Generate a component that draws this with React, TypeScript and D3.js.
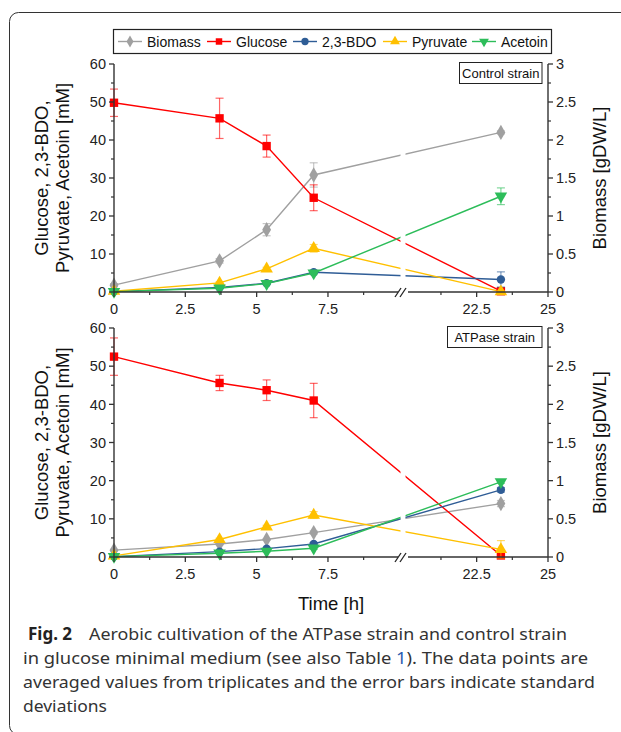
import React from 'react';
import * as d3 from 'd3';

const timePoints = [0, 3.7, 5.35, 7, 23.35];
const seriesNames = ['Biomass', 'Glucose', '2,3-BDO', 'Pyruvate', 'Acetoin'];
const seriesColors = ['#a0a0a0', '#ff0000', '#2f5d96', '#ffc000', '#2dbd5a'];
const seriesShapes = ['diamond', 'square', 'circle', 'triangle', 'triangleDown'];

// Control strain
const ctrlBiomass = [0.09, 0.41, 0.82, 1.54, 2.1];
const ctrlBiomassErr = [0.02, 0.03, 0.08, 0.16, 0.02];
const ctrlGlucose = [49.8, 45.7, 38.4, 24.8, 0.2];
const ctrlGlucoseErr = [3.6, 5.3, 2.9, 3.4, 0.3];
const ctrlBDO = [0.1, 1.2, 2.3, 5.2, 3.3];
const ctrlBDOErr = [0.1, 0.2, 0.3, 0.3, 2.0];
const ctrlPyruvate = [0.2, 2.4, 6.1, 11.5, 0.1];
const ctrlPyruvateErr = [0.1, 0.3, 0.4, 1.0, 0.2];
const ctrlAcetoin = [0.1, 1.0, 2.2, 5.0, 25.2];
const ctrlAcetoinErr = [0.1, 0.2, 0.3, 0.4, 2.2];

// ATPase strain
const atpBiomass = [0.09, 0.17, 0.23, 0.32, 0.7];
const atpBiomassErr = [0.01, 0.01, 0.01, 0.02, 0.04];
const atpGlucose = [52.5, 45.6, 43.7, 41.0, 0.4];
const atpGlucoseErr = [4.9, 2.0, 2.7, 4.5, 0.3];
const atpBDO = [0.1, 1.4, 2.2, 3.4, 17.6];
const atpBDOErr = [0.1, 0.2, 0.2, 0.4, 0.6];
const atpPyruvate = [0.3, 4.6, 7.9, 11.0, 2.0];
const atpPyruvateErr = [0.1, 0.3, 0.4, 0.9, 2.3];
const atpAcetoin = [0.1, 1.0, 1.5, 2.3, 19.7];
const atpAcetoinErr = [0.1, 0.1, 0.2, 0.3, 0.4];

const xMajorTicks = [0, 2.5, 5, 7.5, 22.5, 25];
const xMinorTicks = [1.25, 3.75, 6.25, 8.75, 21.25, 23.75];
const yLeftMajor = [0, 10, 20, 30, 40, 50, 60];
const yLeftMinor = [5, 15, 25, 35, 45, 55];
const yRightMajor = [0, 0.5, 1, 1.5, 2, 2.5, 3];
const yRightMinor = [0.25, 0.75, 1.25, 1.75, 2.25, 2.75];
const panelLabels = ['Control strain', 'ATPase strain'];

const FONT = 'Arial, "Liberation Sans", sans-serif';
const CAP_FONT = '"Noto Sans", "Open Sans", sans-serif';

const X_LEFT = 114;
const X_RIGHT = 548;
const BREAK_X = 403;
const x = d3.scaleLinear().domain([0, 10.13, 19.92, 25]).range([X_LEFT, BREAK_X, BREAK_X, X_RIGHT]);

function symbolPath(shape: string, size: number) {
  let t: any = d3.symbolCircle;
  if (shape === 'diamond') t = d3.symbolDiamond;
  if (shape === 'square') t = d3.symbolSquare;
  if (shape === 'triangle' || shape === 'triangleDown') t = d3.symbolTriangle;
  return d3.symbol().type(t).size(size)() as string;
}

function Marker({ shape, color, cx, cy, size }: any) {
  const rot = shape === 'triangleDown' ? ' rotate(180)' : '';
  return <path d={symbolPath(shape, size)} transform={`translate(${cx},${cy})${rot}`} fill={color} />;
}

function Panel({ top, bottom, label, labelBoxX, data, clipId }: any) {
  const y = d3.scaleLinear().domain([0, 60]).range([bottom, top]);
  const yR = d3.scaleLinear().domain([0, 3]).range([bottom, top]);
  const line = d3.line<[number, number]>().x((d) => d[0]).y((d) => d[1]);
  const mid = (top + bottom) / 2;
  const axisColor = '#333';
  return (
    <g>
      <defs>
        <clipPath id={clipId}>
          <rect x={X_LEFT - 10} y={top - 20} width={BREAK_X - 2.5 - (X_LEFT - 10)} height={bottom - top + 30} />
          <rect x={BREAK_X + 2.5} y={top - 20} width={X_RIGHT + 10 - BREAK_X - 2.5} height={bottom - top + 30} />
        </clipPath>
      </defs>
      {/* label box */}
      <rect x={labelBoxX} y={top - 1.5} width={X_RIGHT - 6 - labelBoxX} height={21} fill="#fff" stroke="#222" strokeWidth={1} />
      <text x={(labelBoxX + X_RIGHT - 6) / 2} y={top + 13.5} textAnchor="middle" fontFamily={FONT} fontSize={13} fill="#111">{label}</text>
      {/* lines */}
      <g clipPath={`url(#${clipId})`}>
        {data.map((s: any, i: number) => {
          const sc = i === 0 ? yR : y;
          const pts: [number, number][] = timePoints.map((t, k) => [x(t), sc(s.values[k])]);
          return <path key={i} d={line(pts) as string} fill="none" stroke={seriesColors[i]} strokeWidth={1.4} />;
        })}
      </g>
      {/* error bars and markers */}
      {data.map((s: any, i: number) => {
        const sc = i === 0 ? yR : y;
        return (
          <g key={i}>
            {timePoints.map((t, k) => {
              const cx = x(t);
              const y1 = sc(s.values[k] + s.err[k]);
              const y2 = sc(Math.max(s.values[k] - s.err[k], i === 0 ? -0.2 : -5));
              return (
                <g key={k} stroke={seriesColors[i]} strokeOpacity={0.6} strokeWidth={1.2}>
                  <line x1={cx} x2={cx} y1={y1} y2={y2} />
                  <line x1={cx - 4} x2={cx + 4} y1={y1} y2={y1} />
                  <line x1={cx - 4} x2={cx + 4} y1={y2} y2={y2} />
                </g>
              );
            })}
            {timePoints.map((t, k) => (
              <Marker key={'m' + k} shape={seriesShapes[i]} color={seriesColors[i]} cx={x(t)} cy={sc(s.values[k])} size={seriesShapes[i] === 'square' ? 70 : seriesShapes[i] === 'circle' ? 55 : 68} />
            ))}
          </g>
        );
      })}
      {/* axes */}
      <line x1={X_LEFT} x2={X_LEFT} y1={top} y2={bottom} stroke={axisColor} strokeWidth={1.4} />
      <line x1={X_RIGHT} x2={X_RIGHT} y1={top} y2={bottom} stroke={axisColor} strokeWidth={1.4} />
      <line x1={X_LEFT} x2={X_RIGHT} y1={bottom} y2={bottom} stroke={axisColor} strokeWidth={1.4} />
      {yLeftMajor.map((v) => (
        <g key={'lm' + v}>
          <line x1={X_LEFT - 5} x2={X_LEFT} y1={y(v)} y2={y(v)} stroke={axisColor} strokeWidth={1.3} />
          <text x={X_LEFT - 8} y={y(v)} dy="0.36em" textAnchor="end" fontFamily={FONT} fontSize={14.5} fill="#222">{v}</text>
        </g>
      ))}
      {yLeftMinor.map((v) => (
        <line key={'ln' + v} x1={X_LEFT - 3} x2={X_LEFT} y1={y(v)} y2={y(v)} stroke={axisColor} strokeWidth={1.2} />
      ))}
      {yRightMajor.map((v) => (
        <g key={'rm' + v}>
          <line x1={X_RIGHT} x2={X_RIGHT + 5} y1={yR(v)} y2={yR(v)} stroke={axisColor} strokeWidth={1.3} />
          <text x={X_RIGHT + 8} y={yR(v)} dy="0.36em" textAnchor="start" fontFamily={FONT} fontSize={14.5} fill="#222">{v}</text>
        </g>
      ))}
      {yRightMinor.map((v) => (
        <line key={'rn' + v} x1={X_RIGHT} x2={X_RIGHT + 3} y1={yR(v)} y2={yR(v)} stroke={axisColor} strokeWidth={1.2} />
      ))}
      {xMajorTicks.map((v) => (
        <g key={'xm' + v}>
          <line x1={x(v)} x2={x(v)} y1={bottom} y2={bottom + 5} stroke={axisColor} strokeWidth={1.3} />
          <text x={x(v)} y={bottom + 22} textAnchor="middle" fontFamily={FONT} fontSize={14.5} fill="#222">{v}</text>
        </g>
      ))}
      {xMinorTicks.map((v) => (
        <line key={'xn' + v} x1={x(v)} x2={x(v)} y1={bottom} y2={bottom + 3} stroke={axisColor} strokeWidth={1.2} />
      ))}
      {/* break marks */}
      <rect x={BREAK_X - 5} y={bottom - 2} width={10} height={4} fill="#fff" />
      <line x1={BREAK_X - 8} x2={BREAK_X - 2} y1={bottom + 5} y2={bottom - 4} stroke="#222" strokeWidth={1.3} />
      <line x1={BREAK_X - 3} x2={BREAK_X + 3} y1={bottom + 5} y2={bottom - 4} stroke="#222" strokeWidth={1.3} />
      {/* axis titles */}
      <text transform={`translate(42,${mid}) rotate(-90)`} dy="0.35em" textAnchor="middle" fontFamily={FONT} fontSize={18.5} fill="#111">Glucose, 2,3-BDO,</text>
      <text transform={`translate(63,${mid}) rotate(-90)`} dy="0.35em" textAnchor="middle" fontFamily={FONT} fontSize={18.5} fill="#111">Pyruvate, Acetoin [mM]</text>
      <text transform={`translate(600,${mid}) rotate(-90)`} dy="0.35em" textAnchor="middle" fontFamily={FONT} fontSize={18.5} fill="#111">Biomass [gDW/L]</text>
    </g>
  );
}

const legendLineX = [118, 207, 293, 383, 472];

export default function App() {
  const ctrlData = [
    { values: ctrlBiomass, err: ctrlBiomassErr },
    { values: ctrlGlucose, err: ctrlGlucoseErr },
    { values: ctrlBDO, err: ctrlBDOErr },
    { values: ctrlPyruvate, err: ctrlPyruvateErr },
    { values: ctrlAcetoin, err: ctrlAcetoinErr },
  ];
  const atpData = [
    { values: atpBiomass, err: atpBiomassErr },
    { values: atpGlucose, err: atpGlucoseErr },
    { values: atpBDO, err: atpBDOErr },
    { values: atpPyruvate, err: atpPyruvateErr },
    { values: atpAcetoin, err: atpAcetoinErr },
  ];
  return (
    <svg width={621} height={732} style={{ position: 'absolute', left: 0, top: 0, background: '#fff' }}>
      <rect x={0} y={0} width={621} height={732} fill="#fff" />
      <rect x={9.5} y={12.5} width={700} height={722} rx={9} fill="none" stroke="#333" strokeWidth={1} />
      {/* legend */}
      <rect x={113.5} y={29.5} width={438} height={24} fill="#fff" stroke="#222" strokeWidth={1.2} />
      {seriesNames.map((n, i) => (
        <g key={n}>
          <line x1={legendLineX[i]} x2={legendLineX[i] + 24} y1={41.5} y2={41.5} stroke={seriesColors[i]} strokeWidth={1.4} />
          <Marker shape={seriesShapes[i]} color={seriesColors[i]} cx={legendLineX[i] + 12} cy={41.5} size={42} />
          <text x={legendLineX[i] + 29} y={41.5} dy="0.36em" fontFamily={FONT} fontSize={14} fill="#111">{n}</text>
        </g>
      ))}
      <Panel top={64} bottom={292} label={panelLabels[0]} labelBoxX={459.5} data={ctrlData} clipId="clipA" />
      <Panel top={328} bottom={557} label={panelLabels[1]} labelBoxX={447.5} data={atpData} clipId="clipB" />
      <text x={331} y={610} textAnchor="middle" fontFamily={FONT} fontSize={18.5} fill="#111">Time [h]</text>
      {/* caption */}
      <text y={640} fontFamily={CAP_FONT} fontSize={17} fill="#222">
        <tspan x={28} fontWeight="bold">Fig. 2</tspan>
      </text>
      <text x={89} y={640} fontFamily={CAP_FONT} fontSize={17} fill="#333" textLength={478} lengthAdjust="spacingAndGlyphs">Aerobic cultivation of the ATPase strain and control strain</text>
      <text x={23} y={664} fontFamily={CAP_FONT} fontSize={17} fill="#333" textLength={565} lengthAdjust="spacingAndGlyphs">in glucose minimal medium (see also Table <tspan fill="#2a5db0">1</tspan>). The data points are</text>
      <text x={23} y={688} fontFamily={CAP_FONT} fontSize={17} fill="#333" textLength={572} lengthAdjust="spacingAndGlyphs">averaged values from triplicates and the error bars indicate standard</text>
      <text x={23} y={712} fontFamily={CAP_FONT} fontSize={17} fill="#333" textLength={84} lengthAdjust="spacingAndGlyphs">deviations</text>
    </svg>
  );
}
